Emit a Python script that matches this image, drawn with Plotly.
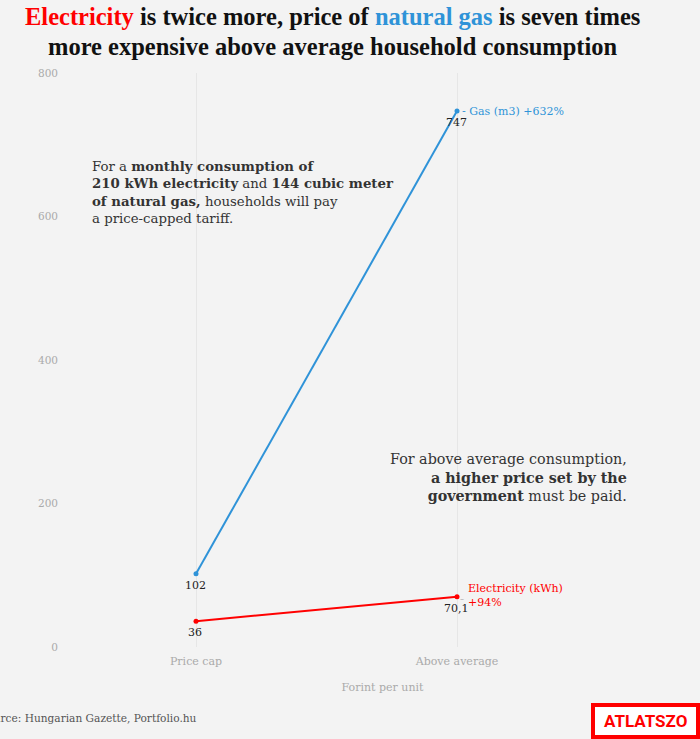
import plotly.graph_objects as go

categories = ["Price cap", "Above average"]
gas_values = [102, 747]
elec_values = [36, 70.1]
gas_labels = ["102", "747"]
elec_labels = ["36", "70,1"]
y_ticks = [0, 200, 400, 600, 800]

W, H = 700, 739
ML, MR, MT, MB = 65, 0, 73, 92
PW, PH = W - ML - MR, H - MT - MB

def px(x):
    return (x - ML) / PW

def py(y):
    return (H - MB - y) / PH

BG = "#f3f3f3"
BLUE = "#2f93d8"
RED = "#ff0000"
FONT = "DejaVu Serif"

xs = [0, 1]
fig = go.Figure()
fig.add_trace(go.Scatter(x=xs, y=gas_values, mode="lines+markers",
                         line=dict(color=BLUE, width=2), marker=dict(size=5, color=BLUE),
                         hoverinfo="skip"))
fig.add_trace(go.Scatter(x=xs, y=elec_values, mode="lines+markers",
                         line=dict(color=RED, width=2), marker=dict(size=5, color=RED),
                         hoverinfo="skip"))

ann = []
for i, (v, t) in enumerate(zip(gas_values, gas_labels)):
    ann.append(dict(x=xs[i], y=v, text=t, showarrow=False, xanchor="center", yanchor="top",
                    yshift=-3, xshift=-1, font=dict(family=FONT, size=11, color="#222")))
for i, (v, t) in enumerate(zip(elec_values, elec_labels)):
    ann.append(dict(x=xs[i], y=v, text=t, showarrow=False, xanchor="center", yanchor="top",
                    yshift=-3, xshift=-1, font=dict(family=FONT, size=11, color="#222")))

ann.append(dict(x=xs[1], y=gas_values[1], text="- Gas (m3) +632%", showarrow=False,
                xanchor="left", yanchor="middle", xshift=3,
                font=dict(family=FONT, size=11, color=BLUE)))
ann.append(dict(x=xs[1], y=elec_values[1], text="Electricity (kWh)<br>+94%", showarrow=False,
                xanchor="left", yanchor="middle", xshift=9, yshift=1, align="left",
                font=dict(family=FONT, size=11, color=RED)))
ann.append(dict(x=xs[1], y=elec_values[1], text="–", showarrow=False,
                xanchor="left", yanchor="middle", xshift=1, yshift=-2,
                font=dict(family=FONT, size=8, color="#999")))

ann.append(dict(xref="paper", yref="paper", x=px(90), y=py(157), xanchor="left", yanchor="top",
                align="left", showarrow=False,
                text="For a <b>monthly consumption of</b><br><b>210 kWh electricity</b> and <b>144 cubic meter</b><br><b>of natural gas,</b> households will pay<br>a price-capped tariff.",
                font=dict(family=FONT, size=13.3, color="#333")))
ann.append(dict(xref="paper", yref="paper", x=px(629), y=py(449), xanchor="right", yanchor="top",
                align="right", showarrow=False,
                text="For above average consumption,<br><b>a higher price set by the</b><br><b>government</b> must be paid.",
                font=dict(family=FONT, size=14.3, color="#333")))

# title lines
ann.append(dict(xref="paper", yref="paper", x=px(332.5), y=py(17), xanchor="center", yanchor="middle",
                showarrow=False, borderpad=0,
                text=f"<b><span style='color:{RED}'>Electricity</span> is twice more, price of <span style='color:{BLUE}'>natural gas</span> is seven times</b>",
                font=dict(family="Liberation Serif", size=24.5, color="#111")))
ann.append(dict(xref="paper", yref="paper", x=px(332.5), y=py(46), xanchor="center", yanchor="middle",
                showarrow=False, borderpad=0,
                text="<b>more expensive above average household consumption</b>",
                font=dict(family="Liberation Serif", size=24.5, color="#111")))

ann.append(dict(xref="paper", yref="paper", x=px(-22), y=py(718), xanchor="left", yanchor="middle",
                showarrow=False, text="Source: Hungarian Gazette, Portfolio.hu",
                font=dict(family=FONT, size=10.6, color="#555")))
ann.append(dict(xref="paper", yref="paper", x=px(645), y=py(721), xanchor="center", yanchor="middle",
                showarrow=False, text="<b>ATLATSZO</b>",
                font=dict(family="Roboto", size=17, color=RED)))

fig.add_shape(type="rect", xref="paper", yref="paper", x0=px(593), x1=px(698), y0=py(705), y1=py(737),
              line=dict(color=RED, width=4), fillcolor="white", layer="below")

fig.update_layout(
    width=W, height=H, margin=dict(l=ML, r=MR, t=MT, b=MB),
    paper_bgcolor=BG, plot_bgcolor=BG, showlegend=False,
    xaxis=dict(tickvals=xs, ticktext=categories, range=[-131/261, (PW - 131)/261],
               showgrid=True, gridcolor="#e6e6e6", gridwidth=1, zeroline=False, showline=False,
               ticks="", tickfont=dict(family=FONT, size=11, color="#aaa"), ticklabelstandoff=6,
               title=dict(text="Forint per unit", font=dict(family=FONT, size=11, color="#aaa"), standoff=16)),
    yaxis=dict(range=[0, 800], tickvals=y_ticks, showgrid=False, zeroline=False, showline=False,
               ticks="", tickfont=dict(family=FONT, size=10.5, color="#aaa"), ticklabelstandoff=6),
    annotations=ann,
)

fig.write_html("out.html", config={"displayModeBar": False},
               post_script="document.body.style.margin='0';document.body.style.overflow='hidden';")
